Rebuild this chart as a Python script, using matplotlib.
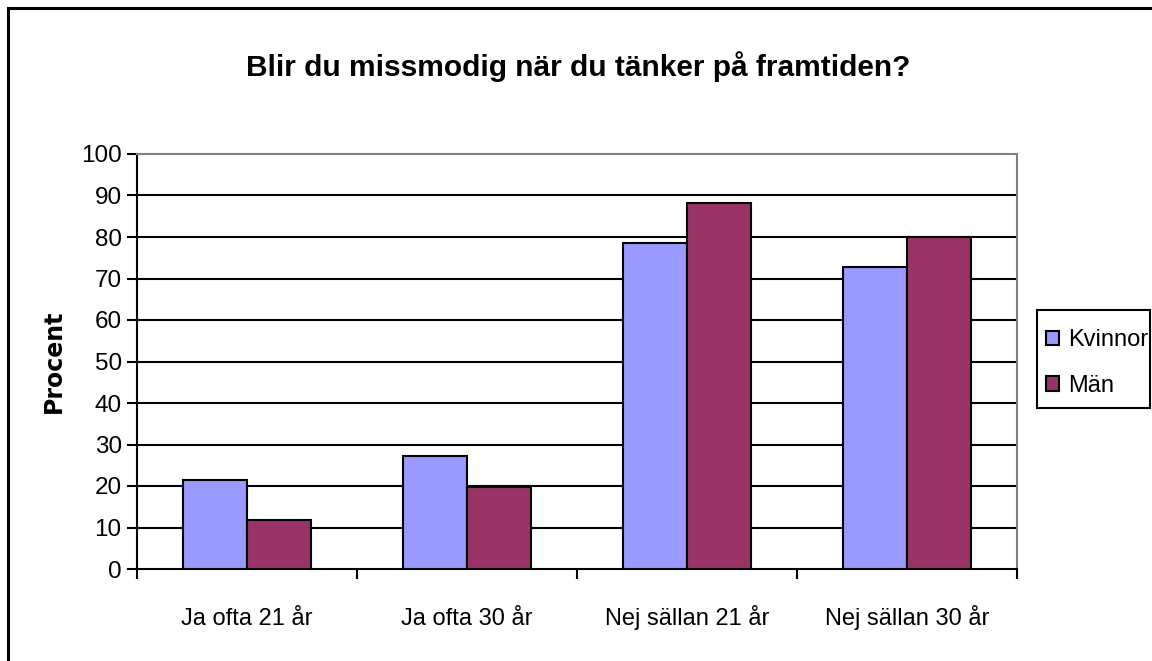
import numpy as np
import matplotlib.pyplot as plt
from matplotlib.patches import Rectangle

plt.rcParams['font.family'] = ['Liberation Sans', 'DejaVu Sans']

categories = ["Ja ofta 21 år", "Ja ofta 30 år", "Nej sällan 21 år", "Nej sällan 30 år"]
kvinnor = [21.5, 27.3, 78.5, 72.8]
man = [11.8, 19.8, 88.2, 80.1]
series_names = ["Kvinnor", "Män"]
yticks = list(range(0, 101, 10))

fig = plt.figure(figsize=(11.52, 6.61), dpi=100)
ax = fig.add_axes([137/1152, 1 - 569/661, 880/1152, 415/661])

x = np.arange(len(categories))
w = 0.29
ax.bar(x - w/2, kvinnor, w, color="#9999FF", edgecolor="black", linewidth=1.5,
       label=series_names[0], zorder=3)
ax.bar(x + w/2, man, w, color="#993366", edgecolor="black", linewidth=1.5,
       label=series_names[1], zorder=3)

ax.set_xlim(-0.5, len(categories) - 0.5)
ax.set_ylim(0, 100)
ax.set_yticks(yticks)
ax.tick_params(axis='y', labelsize=17.5, length=7, width=1.5, direction='out', pad=4)
for v in yticks[1:-1]:
    ax.axhline(v, color="black", linewidth=1.5, zorder=1)

# category boundaries get the tick marks, labels sit at the centres
ax.set_xticks(np.arange(-0.5, len(categories)), labels=[""] * (len(categories) + 1))
ax.set_xticks(x, labels=categories, minor=True)
ax.tick_params(axis='x', which='major', length=7, width=1.5, direction='out')
ax.tick_params(axis='x', which='minor', length=0, labelsize=17, pad=40)
for lbl in ax.get_xticklabels(minor=True):
    lbl.set_va("baseline")

for s in ["left", "bottom"]:
    ax.spines[s].set_linewidth(1.5)
    ax.spines[s].set_color("black")
for s in ["top", "right"]:
    ax.spines[s].set_linewidth(1.5)
    ax.spines[s].set_color("#808080")

fig.text(54/1152, 1 - 361/661, "Procent", rotation=90, ha="center", va="center",
         fontsize=17, fontweight="bold", family="DejaVu Sans")

fig.text(578/1152, 1 - 67/661, "Blir du missmodig när du tänker på framtiden?",
         ha="center", va="center", fontsize=21.5, fontweight="bold")

# legend box drawn by hand, entries placed inside it
fig.patches.append(Rectangle((1037/1152, 1 - 408/661), 113/1152, 98/661,
                             transform=fig.transFigure, fill=False,
                             edgecolor="black", linewidth=1.5))
leg = ax.legend(loc="center left", bbox_to_anchor=(1037/1152, 1 - 363/661),
                bbox_transform=fig.transFigure, fontsize=17, frameon=False,
                borderpad=0.4, handlelength=0.55, handleheight=0.55,
                handletextpad=0.35, labelspacing=1.0, borderaxespad=0)

fig.patches.append(Rectangle((8/1152, -0.1), 1.2, 1 - 8/661 + 0.1,
                             transform=fig.transFigure, fill=False,
                             edgecolor="black", linewidth=2.2))

fig.savefig("out.png", dpi=100)
